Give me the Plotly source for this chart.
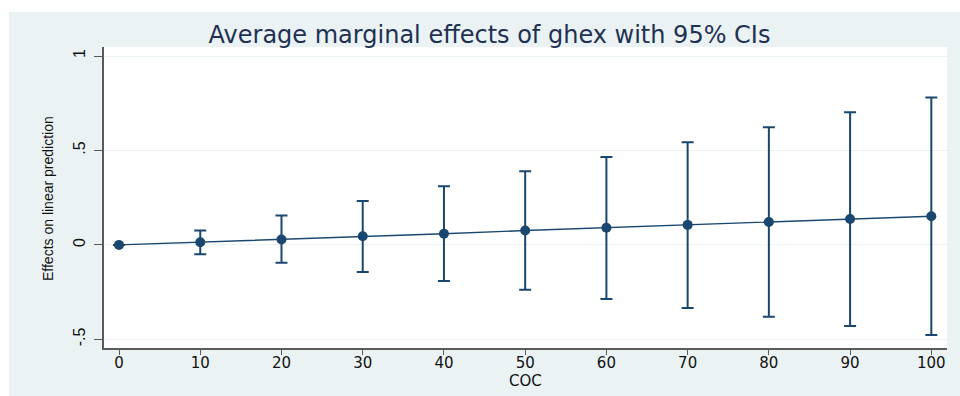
import plotly.graph_objects as go

coc = [0, 10, 20, 30, 40, 50, 60, 70, 80, 90, 100]
effect = [0.0, 0.014, 0.029, 0.046, 0.059, 0.076, 0.091, 0.106, 0.121, 0.137, 0.152]
ci_low = [0.0, -0.049, -0.095, -0.143, -0.191, -0.238, -0.286, -0.334, -0.381, -0.429, -0.477]
ci_high = [0.0, 0.076, 0.156, 0.232, 0.311, 0.390, 0.465, 0.544, 0.623, 0.702, 0.780]
x_ticks = [0, 10, 20, 30, 40, 50, 60, 70, 80, 90, 100]
y_ticks = [-0.5, 0, 0.5, 1]
y_ticklabels = ["-.5", "0", ".5", "1"]

navy = "#1a476f"
bg = "#eaf2f3"

err_plus = [h - e for h, e in zip(ci_high, effect)]
err_minus = [e - l for e, l in zip(effect, ci_low)]

fig = go.Figure()
fig.add_trace(go.Scatter(
    x=coc, y=effect, mode="lines+markers",
    line=dict(color=navy, width=1.4),
    marker=dict(color=navy, size=10, symbol="circle"),
    error_y=dict(type="data", array=err_plus, arrayminus=err_minus,
                 color=navy, thickness=2, width=6, symmetric=False),
    showlegend=False,
))

W, H = 960, 396
ml, mr, mt, mb = 104, 13, 47, 48
pw, ph = W - ml - mr, H - mt - mb

def px_x(p):
    return (p - ml) / pw

def px_y(p):
    return (H - mb - p) / ph

shapes = [
    dict(type="rect", xref="paper", yref="paper", x0=px_x(0), x1=px_x(W), y0=px_y(12), y1=px_y(0),
         fillcolor="white", line=dict(width=0), layer="above"),
    dict(type="rect", xref="paper", yref="paper", x0=px_x(0), x1=px_x(9), y0=px_y(H), y1=px_y(0),
         fillcolor="white", line=dict(width=0), layer="above"),
]

annotations = [
    dict(text="Effects on linear prediction", xref="paper", yref="paper",
         x=px_x(48), y=px_y(199), xanchor="center", yanchor="middle", textangle=-90,
         showarrow=False,
         font=dict(family="Liberation Sans Narrow, Liberation Sans", size=14, color="#111111")),
    dict(text="COC", xref="paper", yref="paper",
         x=px_x(525), y=px_y(381), xanchor="center", yanchor="middle",
         showarrow=False,
         font=dict(family="DejaVu Sans", size=15, color="#111111")),
]

fig.update_layout(
    width=W, height=H,
    margin=dict(l=ml, r=mr, t=mt, b=mb, autoexpand=False),
    paper_bgcolor=bg, plot_bgcolor="white",
    shapes=shapes,
    annotations=annotations,
    title=dict(text="Average marginal effects of ghex with 95% CIs",
               x=489.5 / W, xref="container", xanchor="center",
               y=1 - 35 / H, yref="container", yanchor="middle",
               font=dict(family="DejaVu Sans", size=24, color="#1f3153")),
    xaxis=dict(
        range=[-1.85, 101.93], tickvals=x_ticks, ticktext=[str(v) for v in x_ticks],
        showgrid=False, zeroline=False, automargin=False,
        showline=True, linecolor="#5a5a5a", linewidth=1.5,
        ticks="outside", ticklen=5, tickcolor="#5a5a5a", tickwidth=1.2,
        ticklabelstandoff=-5,
        tickfont=dict(family="DejaVu Sans", size=15, color="#111111"),
    ),
    yaxis=dict(
        range=[-0.546, 1.048], tickvals=y_ticks, ticktext=y_ticklabels, tickangle=-90,
        showgrid=True, gridcolor=bg, gridwidth=1.2, zeroline=False, automargin=False,
        showline=True, linecolor="#5a5a5a", linewidth=1.5,
        ticks="outside", ticklen=8, tickcolor="#5a5a5a", tickwidth=1.2,
        ticklabelstandoff=3,
        tickfont=dict(family="Liberation Sans", size=16, color="#111111"),
    ),
)

fig.write_html("out.html")
